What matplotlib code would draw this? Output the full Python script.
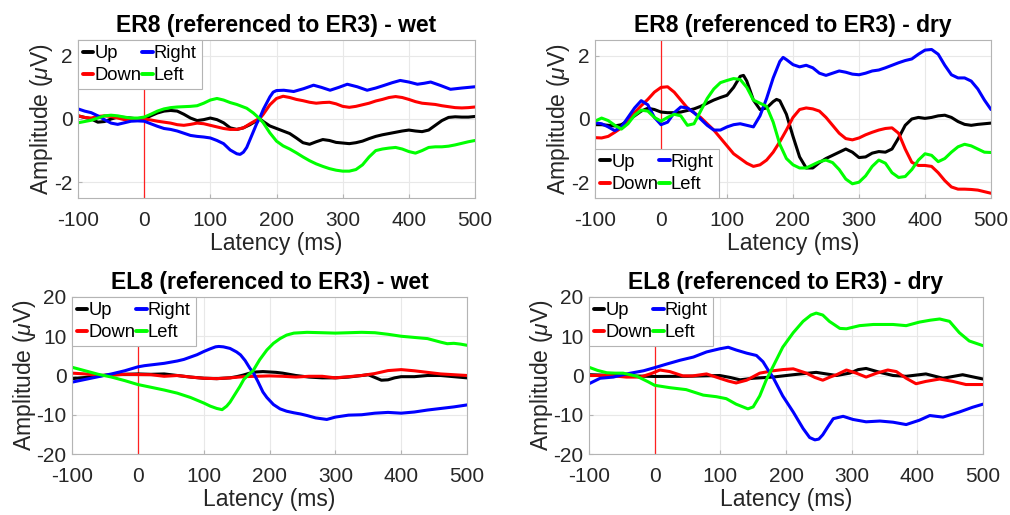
import matplotlib
matplotlib.use("Agg")
import matplotlib.pyplot as plt

plt.rcParams['font.family'] = ['Liberation Sans', 'DejaVu Sans']
plt.rcParams['axes.unicode_minus'] = False
plt.rcParams['mathtext.fontset'] = 'custom'
plt.rcParams['mathtext.it'] = 'Liberation Sans:italic'
plt.rcParams['mathtext.rm'] = 'Liberation Sans'

# ---------------- data: ER8 wet ----------------
er8_wet_up_t = [-100, -90, -80, -70, -60, -50, -40, -30, -20, -10, 0, 10, 20, 30, 40, 50, 60, 70, 80, 90, 100, 110, 120, 130, 140, 150, 160, 170, 175, 180, 190, 200, 210, 220, 230, 240, 250, 260, 270, 280, 290, 300, 310, 320, 330, 340, 350, 360, 370, 380, 390, 400, 410, 420, 430, 440, 450, 460, 470, 480, 490, 500]
er8_wet_up_v = [0.10, 0.05, 0.00, -0.10, -0.08, 0.00, 0.06, 0.05, 0.03, 0.00, 0.00, 0.10, 0.19, 0.25, 0.27, 0.25, 0.15, 0.03, -0.05, -0.02, 0.03, -0.02, -0.12, -0.28, -0.33, -0.28, -0.18, -0.05, 0.00, -0.08, -0.22, -0.30, -0.38, -0.46, -0.60, -0.75, -0.80, -0.72, -0.65, -0.68, -0.74, -0.76, -0.78, -0.75, -0.70, -0.62, -0.55, -0.50, -0.46, -0.42, -0.38, -0.35, -0.38, -0.40, -0.35, -0.20, -0.05, 0.05, 0.07, 0.06, 0.06, 0.08]
er8_wet_right_t = [-100, -90, -80, -70, -60, -50, -40, -30, -20, -10, 0, 10, 20, 30, 40, 50, 60, 70, 80, 90, 100, 110, 120, 130, 140, 145, 150, 155, 160, 165, 170, 175, 180, 185, 190, 195, 200, 211, 226, 241, 256, 268, 281, 294, 307, 322, 337, 350, 362, 375, 387, 400, 413, 423, 433, 448, 463, 480, 500]
er8_wet_right_v = [0.32, 0.25, 0.20, 0.10, -0.02, -0.13, -0.17, -0.12, -0.07, -0.06, -0.07, -0.15, -0.23, -0.30, -0.33, -0.38, -0.45, -0.52, -0.55, -0.57, -0.60, -0.68, -0.78, -0.98, -1.10, -1.12, -1.05, -0.90, -0.65, -0.40, -0.15, 0.05, 0.30, 0.50, 0.70, 0.85, 0.90, 0.91, 0.87, 0.96, 1.07, 1.00, 0.91, 1.00, 1.10, 1.02, 0.91, 0.98, 1.06, 1.15, 1.22, 1.17, 1.10, 1.13, 1.17, 1.06, 0.94, 0.98, 1.02]
er8_wet_down_t = [-100, -90, -80, -70, -60, -50, -40, -30, -20, -10, 0, 10, 20, 30, 40, 50, 60, 70, 80, 90, 100, 110, 120, 130, 140, 150, 160, 170, 175, 180, 185, 190, 200, 210, 220, 230, 240, 250, 260, 270, 280, 290, 300, 310, 320, 330, 340, 350, 360, 370, 380, 390, 400, 410, 420, 430, 440, 450, 460, 470, 480, 490, 500]
er8_wet_down_v = [0.10, 0.05, 0.03, 0.08, 0.10, 0.08, 0.03, -0.02, 0.00, 0.00, 0.00, -0.03, -0.07, -0.10, -0.13, -0.18, -0.20, -0.17, -0.13, -0.15, -0.20, -0.25, -0.30, -0.33, -0.33, -0.28, -0.15, -0.03, 0.02, 0.15, 0.30, 0.45, 0.65, 0.72, 0.68, 0.62, 0.58, 0.53, 0.50, 0.52, 0.53, 0.48, 0.40, 0.37, 0.40, 0.45, 0.50, 0.57, 0.62, 0.68, 0.71, 0.68, 0.62, 0.55, 0.50, 0.48, 0.46, 0.42, 0.39, 0.36, 0.35, 0.36, 0.38]
er8_wet_left_t = [-100, -90, -80, -70, -60, -50, -40, -30, -20, -10, 0, 10, 20, 30, 40, 50, 60, 70, 80, 90, 100, 110, 120, 130, 140, 150, 155, 165, 175, 180, 190, 200, 210, 220, 230, 240, 250, 260, 270, 280, 290, 300, 310, 320, 330, 340, 350, 360, 370, 380, 390, 400, 410, 420, 430, 440, 450, 460, 470, 480, 490, 500]
er8_wet_left_v = [-0.12, -0.08, -0.04, 0.03, 0.10, 0.12, 0.10, 0.06, 0.03, 0.03, 0.06, 0.15, 0.25, 0.32, 0.36, 0.38, 0.39, 0.40, 0.42, 0.50, 0.60, 0.65, 0.60, 0.52, 0.46, 0.38, 0.34, 0.19, 0.00, -0.12, -0.44, -0.70, -0.85, -0.95, -1.07, -1.20, -1.32, -1.42, -1.50, -1.57, -1.62, -1.65, -1.65, -1.60, -1.45, -1.20, -1.00, -0.95, -0.92, -0.90, -0.95, -1.03, -1.08, -1.00, -0.90, -0.88, -0.88, -0.86, -0.82, -0.77, -0.72, -0.68]

# ---------------- data: ER8 dry ----------------
er8_dry_up_t = [-100, -90, -80, -70, -60, -50, -40, -30, -20, -10, 0, 10, 20, 30, 40, 50, 60, 70, 80, 90, 100, 110, 120, 125, 130, 140, 150, 160, 170, 175, 180, 190, 200, 210, 220, 230, 240, 250, 260, 270, 280, 290, 300, 310, 320, 330, 340, 350, 360, 370, 380, 390, 400, 410, 420, 430, 440, 450, 460, 470, 480, 490, 500]
er8_dry_up_v = [-0.18, -0.18, -0.20, -0.22, -0.18, -0.05, 0.10, 0.25, 0.34, 0.30, 0.22, 0.20, 0.20, 0.22, 0.27, 0.32, 0.40, 0.50, 0.60, 0.68, 0.75, 1.00, 1.35, 1.38, 1.20, 0.60, 0.30, 0.35, 0.55, 0.62, 0.58, 0.15, -0.55, -1.20, -1.55, -1.55, -1.38, -1.25, -1.15, -1.05, -0.95, -1.05, -1.22, -1.20, -1.08, -1.03, -1.05, -0.95, -0.60, -0.20, 0.00, 0.05, 0.02, 0.05, 0.10, 0.12, 0.05, -0.08, -0.17, -0.20, -0.17, -0.15, -0.13]
er8_dry_right_t = [-100, -90, -80, -70, -60, -50, -40, -30, -20, -10, 0, 10, 20, 30, 40, 50, 60, 70, 80, 90, 100, 110, 120, 130, 140, 150, 160, 170, 180, 185, 190, 200, 210, 220, 230, 240, 250, 260, 270, 280, 290, 300, 310, 320, 330, 340, 350, 360, 370, 380, 390, 400, 410, 420, 430, 440, 450, 460, 470, 480, 490, 500]
er8_dry_right_v = [-0.12, -0.15, -0.25, -0.37, -0.25, 0.05, 0.35, 0.58, 0.45, 0.05, -0.18, -0.10, 0.20, 0.38, 0.35, 0.20, 0.00, -0.20, -0.35, -0.35, -0.25, -0.18, -0.15, -0.20, -0.25, 0.10, 0.65, 1.30, 1.82, 1.95, 1.88, 1.72, 1.65, 1.70, 1.62, 1.45, 1.38, 1.45, 1.52, 1.48, 1.42, 1.40, 1.45, 1.52, 1.55, 1.62, 1.70, 1.78, 1.85, 1.90, 2.05, 2.18, 2.20, 2.05, 1.70, 1.40, 1.30, 1.30, 1.20, 0.95, 0.60, 0.30]
er8_dry_down_t = [-100, -90, -80, -70, -60, -50, -40, -30, -20, -10, 0, 10, 20, 30, 40, 50, 60, 70, 80, 90, 100, 110, 120, 130, 140, 150, 160, 170, 180, 190, 200, 210, 220, 230, 240, 250, 260, 270, 280, 290, 300, 310, 320, 330, 340, 350, 360, 370, 380, 390, 400, 410, 420, 430, 440, 450, 460, 470, 480, 490, 500]
er8_dry_down_v = [-0.59, -0.60, -0.55, -0.42, -0.28, -0.05, 0.20, 0.42, 0.62, 0.85, 1.00, 1.02, 0.85, 0.60, 0.35, 0.20, 0.05, -0.15, -0.35, -0.60, -0.85, -1.10, -1.25, -1.40, -1.50, -1.45, -1.30, -1.05, -0.72, -0.35, 0.05, 0.30, 0.35, 0.32, 0.25, 0.05, -0.20, -0.45, -0.62, -0.66, -0.60, -0.50, -0.42, -0.35, -0.30, -0.28, -0.45, -0.95, -1.37, -1.47, -1.47, -1.50, -1.70, -1.95, -2.15, -2.22, -2.22, -2.23, -2.25, -2.30, -2.35]
er8_dry_left_t = [-100, -90, -80, -70, -60, -50, -40, -30, -20, -10, 0, 10, 20, 30, 40, 50, 60, 70, 80, 90, 100, 110, 120, 130, 140, 150, 160, 170, 180, 190, 200, 210, 220, 230, 240, 250, 260, 270, 280, 290, 300, 310, 320, 330, 340, 350, 360, 370, 380, 390, 400, 410, 420, 430, 440, 450, 460, 470, 480, 490, 500]
er8_dry_left_v = [-0.07, 0.03, -0.05, -0.20, -0.32, -0.15, 0.12, 0.28, 0.25, 0.05, -0.07, 0.05, 0.15, 0.10, -0.20, -0.15, 0.25, 0.65, 0.95, 1.15, 1.22, 1.28, 1.25, 1.00, 0.60, 0.50, 0.40, -0.10, -0.80, -1.25, -1.45, -1.55, -1.55, -1.45, -1.35, -1.30, -1.38, -1.60, -1.90, -2.05, -2.00, -1.80, -1.50, -1.30, -1.40, -1.70, -1.85, -1.82, -1.60, -1.30, -1.10, -1.15, -1.35, -1.25, -1.05, -0.88, -0.80, -0.85, -0.95, -1.05, -1.06]

# ---------------- data: EL8 wet ----------------
el8_wet_up_t = [-100, -80, -60, -40, -20, 0, 20, 40, 60, 80, 100, 120, 140, 150, 160, 170, 180, 190, 200, 210, 220, 240, 260, 280, 300, 320, 340, 350, 360, 370, 380, 390, 400, 420, 440, 460, 480, 500]
el8_wet_up_v = [-0.8, -0.5, -0.1, 0.2, 0.3, 0.4, 0.3, 0.4, 0.0, -0.4, -0.7, -0.8, -0.6, -0.3, 0.1, 0.6, 0.9, 1.0, 0.9, 0.8, 0.6, 0.0, -0.4, -0.6, -0.6, -0.4, 0.0, 0.2, -0.5, -1.2, -1.1, -0.6, -0.3, -0.3, 0.0, 0.0, -0.3, -0.6]
el8_wet_right_t = [-100, -80, -60, -40, -20, 0, 10, 20, 30, 40, 50, 60, 70, 80, 90, 100, 110, 118, 123, 130, 140, 150, 156, 163, 170, 176, 182, 190, 196, 206, 216, 226, 237, 247, 257, 270, 287, 300, 320, 340, 360, 380, 400, 420, 440, 460, 480, 500]
el8_wet_right_v = [-1.7, -1.0, -0.3, 0.4, 1.2, 2.2, 2.5, 2.7, 2.9, 3.1, 3.4, 3.7, 4.1, 4.7, 5.3, 6.1, 6.8, 7.3, 7.4, 7.3, 6.9, 6.0, 5.25, 3.8, 1.9, 0.5, -1.4, -4.2, -5.6, -7.4, -8.5, -9.1, -9.5, -9.8, -10.2, -10.8, -11.2, -10.6, -10.1, -10.0, -9.6, -9.4, -9.6, -9.3, -8.8, -8.4, -8.0, -7.5]
el8_wet_down_t = [-100, -80, -60, -40, -20, 0, 20, 40, 60, 80, 100, 120, 140, 160, 180, 200, 220, 240, 260, 280, 300, 320, 340, 360, 380, 400, 420, 440, 460, 480, 500]
el8_wet_down_v = [0.6, 0.4, 0.0, 0.1, 0.3, 0.25, 0.2, -0.2, 0.0, -0.4, -0.7, -0.8, -0.6, -0.3, -0.2, -0.1, -0.2, -0.4, -0.2, -0.2, -0.6, -0.3, 0.0, 0.5, 1.25, 1.5, 1.2, 0.8, 0.4, 0.2, 0.0]
el8_wet_left_t = [-100, -80, -60, -40, -20, 0, 20, 40, 60, 80, 100, 110, 120, 128, 135, 140, 146, 155, 161, 168, 175, 185, 196, 206, 216, 226, 237, 257, 280, 300, 320, 340, 360, 380, 400, 420, 440, 460, 470, 480, 490, 500]
el8_wet_left_v = [2.1, 1.2, 0.3, -0.4, -1.3, -2.3, -3.0, -3.7, -4.5, -5.6, -7.0, -7.8, -8.4, -8.7, -7.8, -6.8, -5.2, -2.8, -1.0, 0.2, 1.2, 4.0, 6.5, 8.2, 9.4, 10.3, 10.8, 11.0, 10.9, 10.8, 10.9, 11.0, 10.9, 10.5, 10.0, 9.7, 9.4, 8.5, 8.1, 8.2, 8.0, 7.7]

# ---------------- data: EL8 dry ----------------
el8_dry_up_t = [-100, -60, 0, 50, 99, 115, 130, 150, 180, 211, 246, 277, 297, 310, 322, 343, 363, 383, 413, 439, 469, 500]
el8_dry_up_v = [0.2, 0.0, -0.25, -0.2, 0.0, -0.5, -1.1, -0.7, -0.4, 0.2, 0.8, 0.0, 0.6, 1.5, 1.8, 0.8, 0.0, -0.2, 0.4, -0.7, 0.2, -0.9]
el8_dry_right_t = [-100, -83, -63, -43, -17, 0, 18, 39, 59, 79, 99, 112, 124, 140, 155, 165, 172, 180, 195, 211, 226, 236, 244, 250, 256, 264, 272, 287, 302, 322, 343, 363, 383, 403, 419, 439, 464, 484, 500]
el8_dry_right_v = [-2.1, -0.7, -0.4, 0.4, 1.2, 2.0, 2.9, 3.9, 4.7, 6.0, 6.8, 7.2, 6.5, 5.7, 5.1, 3.5, 1.6, -0.4, -5.2, -9.3, -13.5, -15.8, -16.4, -16.2, -15.1, -13.0, -11.0, -10.4, -11.2, -11.8, -11.6, -11.9, -12.5, -11.4, -10.2, -10.6, -9.3, -8.1, -7.3]
el8_dry_down_t = [-100, -70, -43, -22, -5, 8, 23, 43, 58, 79, 99, 112, 124, 140, 160, 180, 195, 211, 231, 244, 256, 267, 277, 292, 307, 322, 338, 355, 368, 383, 398, 413, 434, 454, 474, 500]
el8_dry_down_v = [0.0, 0.0, -0.4, -0.4, 0.5, 1.4, 1.0, -0.1, -0.1, 0.4, -0.7, -1.4, -1.9, -1.2, 0.6, 1.2, 1.5, 1.7, 0.6, -0.5, -1.2, -0.4, 0.2, 1.4, 0.6, -0.4, 0.6, 1.4, 1.0, -0.7, -2.1, -1.5, -0.9, -1.5, -2.3, -2.3]
el8_dry_left_t = [-100, -87, -73, -60, -48, -27, -10, 0, 23, 48, 74, 94, 109, 124, 142, 150, 160, 170, 180, 195, 211, 226, 238, 246, 256, 266, 282, 292, 312, 333, 363, 383, 403, 420, 434, 449, 464, 479, 500]
el8_dry_left_v = [2.1, 1.3, 0.7, 0.6, 0.6, -0.2, -1.6, -2.5, -3.1, -3.6, -5.0, -5.4, -5.9, -7.3, -8.5, -8.0, -5.2, -1.1, 2.2, 7.2, 10.9, 13.8, 15.4, 15.9, 15.4, 13.8, 12.0, 11.9, 12.7, 13.0, 13.0, 12.7, 13.6, 14.1, 14.4, 13.8, 10.9, 8.8, 7.6]

titles = ["ER8 (referenced to ER3) - wet", "ER8 (referenced to ER3) - dry",
          "EL8 (referenced to ER3) - wet", "EL8 (referenced to ER3) - dry"]
labels = ["Up", "Down", "Right", "Left"]
colors = ["#000000", "#ff0000", "#0000ff", "#00ff00"]
x_ticks = [-100, 0, 100, 200, 300, 400, 500]
y_ticks_top = [-2, 0, 2]
y_ticks_bot = [-20, -10, 0, 10, 20]

panels = [
    [(er8_wet_up_t, er8_wet_up_v), (er8_wet_down_t, er8_wet_down_v), (er8_wet_right_t, er8_wet_right_v), (er8_wet_left_t, er8_wet_left_v)],
    [(er8_dry_up_t, er8_dry_up_v), (er8_dry_down_t, er8_dry_down_v), (er8_dry_right_t, er8_dry_right_v), (er8_dry_left_t, er8_dry_left_v)],
    [(el8_wet_up_t, el8_wet_up_v), (el8_wet_down_t, el8_wet_down_v), (el8_wet_right_t, el8_wet_right_v), (el8_wet_left_t, el8_wet_left_v)],
    [(el8_dry_up_t, el8_dry_up_v), (el8_dry_down_t, el8_dry_down_v), (el8_dry_right_t, el8_dry_right_v), (el8_dry_left_t, el8_dry_left_v)],
]

W, H = 1010, 515
fig = plt.figure(figsize=(W / 100, H / 100), dpi=100)
# pixel boxes: (left, top, right, bottom)
boxes = [(78, 40, 475, 198), (595, 40, 991, 198), (72, 297, 467, 454), (589, 297, 983, 454)]
legend_locs = ["upper left", "lower left", "upper left", "upper left"]
ylims = [(-2.5, 2.5), (-2.5, 2.5), (-20, 20), (-20, 20)]
yticks = [y_ticks_top, y_ticks_top, y_ticks_bot, y_ticks_bot]

spine_col = "#b4b4b4"
text_col = "#262626"

for i in range(4):
    l, t, r, b = boxes[i]
    ax = fig.add_axes([l / W, (H - b) / H, (r - l) / W, (b - t) / H])
    lines = []
    for (tt, vv), lab, c in zip(panels[i], labels, colors):
        ln, = ax.plot(tt, vv, color=c, lw=2.2, label=lab,
                      solid_joinstyle='round', solid_capstyle='round')
        lines.append(ln)
    ax.axvline(0, color="#ff2020", lw=0.9, zorder=1)
    ax.set_xlim(-100, 500)
    ax.set_ylim(*ylims[i])
    ax.set_xticks(x_ticks)
    ax.set_yticks(yticks[i])
    ax.grid(True, color="#e8e8e8", lw=0.8)
    ax.set_axisbelow(True)
    for s in ax.spines.values():
        s.set_color(spine_col)
        s.set_linewidth(0.8)
    ax.tick_params(direction='in', length=3, color=spine_col, labelsize=15,
                   labelcolor=text_col)
    ax.tick_params(axis='x', pad=9.5)
    ax.tick_params(axis='y', pad=4)
    ax.set_title(titles[i], fontsize=16.5, fontweight='bold', pad=6, color='black')
    ax.set_xlabel("Latency (ms)", fontsize=16.5, color=text_col, labelpad=1.5)
    ax.set_ylabel(r"Amplitude ($\mu$V)", fontsize=16.5, color=text_col, labelpad=-1)
    leg = ax.legend(handles=lines, loc=legend_locs[i], ncol=2, fontsize=13.2,
                    handlelength=0.55, handletextpad=0.08, columnspacing=0.05,
                    labelspacing=0.3, borderpad=0.27, borderaxespad=0.0,
                    fancybox=False, framealpha=1, edgecolor=spine_col)
    leg.get_frame().set_linewidth(0.8)
    for lh in leg.get_lines():
        lh.set_linewidth(2.8)

fig.savefig("out.png", dpi=100)
